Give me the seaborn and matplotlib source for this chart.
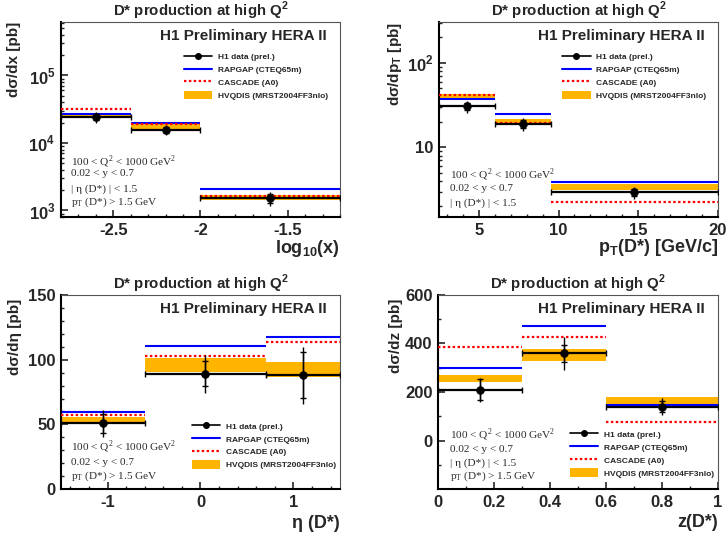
import numpy as np
import pandas as pd
import matplotlib
matplotlib.use("Agg")
import matplotlib.pyplot as plt
from matplotlib.lines import Line2D
from matplotlib.patches import Patch
from matplotlib.ticker import MultipleLocator, LogLocator, NullFormatter
import seaborn as sns

# ---- data ----
# d sigma / d log10(x)
logx_edges = [-2.8, -2.4, -2.0, -1.2]
logx_data = [2.46e4, 1.57e4, 1.52e3]
logx_stat = [2.5e3, 1.5e3, 2.2e2]
logx_tot = [4.6e3, 2.7e3, 3.5e2]
logx_rapgap = [2.7e4, 2.0e4, 2.08e3]
logx_cascade = [3.16e4, 1.92e4, 1.63e3]
logx_hvq_lo = [2.41e4, 1.6e4, 1.45e3]
logx_hvq_hi = [2.7e4, 1.92e4, 1.7e3]

# d sigma / d pT
pt_edges = [2.5, 6.0, 9.5, 20.0]
pt_data = [30.6, 19.0, 2.93]
pt_stat = [3.2, 2.0, 0.3]
pt_tot = [5.2, 3.2, 0.5]
pt_rapgap = [37.8, 24.9, 3.85]
pt_cascade = [42.2, 19.5, 2.25]
pt_hvq_lo = [38.1, 19.5, 3.1]
pt_hvq_hi = [43.0, 21.9, 3.7]

# d sigma / d eta
eta_edges = [-1.5, -0.6, 0.7, 1.5]
eta_data = [50.9, 89.1, 87.9]
eta_stat = [7.5, 9.7, 17.7]
eta_tot = [10.5, 14.7, 22.0]
eta_rapgap = [59.9, 110.2, 117.4]
eta_cascade = [57.3, 102.7, 113.8]
eta_hvq_lo = [51.0, 90.7, 86.3]
eta_hvq_hi = [56.0, 101.0, 98.0]

# d sigma / d z
z_edges = [0.0, 0.3, 0.6, 1.0]
z_data = [210, 359, 141]
z_stat = [44, 36, 22]
z_tot = [50, 67, 34]
z_rapgap = [300, 470, 148]
z_cascade = [386, 428, 78]
z_hvq_lo = [240, 327, 150]
z_hvq_hi = [272, 378, 182]

legend_labels = ["H1 data (prel.)", "RAPGAP (CTEQ65m)", "CASCADE (A0)", "HVQDIS (MRST2004FF3nlo)"]

sns.set_theme(style="ticks")
plt.rcParams['font.family'] = ['Liberation Sans', 'DejaVu Sans']
plt.rcParams['font.weight'] = 'bold'
plt.rcParams['axes.labelweight'] = 'bold'
plt.rcParams['axes.titleweight'] = 'bold'
plt.rcParams['axes.unicode_minus'] = False

ORANGE = '#ffb400'
BLUE = '#0000ff'
RED = '#ff0000'


def draw_panel(ax, edges, data, stat, tot, rap, cas, lo, hi):
    edges = np.array(edges)
    centers = (edges[:-1] + edges[1:]) / 2
    widths = edges[1:] - edges[:-1]
    lo = np.array(lo)
    hi = np.array(hi)
    ax.bar(centers, hi - lo, bottom=lo, width=widths, color=ORANGE, linewidth=0, zorder=1)
    ax.hlines(rap, edges[:-1], edges[1:], color=BLUE, lw=1.5, zorder=2)
    ax.hlines(cas, edges[:-1], edges[1:], color=RED, lw=1.6, linestyles=(0, (1.1, 1.1)), zorder=3)
    ax.errorbar(centers, data, xerr=widths / 2, fmt='none', ecolor='black', elinewidth=1.6,
                capsize=2.2, capthick=1.0, zorder=4)
    ax.errorbar(centers, data, yerr=tot, fmt='none', ecolor='black', elinewidth=1.0, capsize=0, zorder=4)
    ax.errorbar(centers, data, yerr=stat, fmt='none', ecolor='black', elinewidth=1.0,
                capsize=2.2, capthick=1.0, zorder=4)
    sns.scatterplot(x=centers, y=data, color='black', s=32, edgecolor='black', zorder=5, ax=ax)


def style_axes(ax):
    for side in ['left', 'bottom']:
        ax.spines[side].set_linewidth(1.5)
        ax.spines[side].set_color('black')
    for side in ['top', 'right']:
        ax.spines[side].set_linewidth(0.8)
        ax.spines[side].set_color('#555555')
    ax.tick_params(which='major', direction='in', length=5, width=1.2, labelsize=12, pad=4,
                   top=False, right=False)
    ax.tick_params(which='minor', direction='in', length=2.5, width=1.0, top=False, right=False)
    ax.set_title("D* production at high Q$^\\mathregular{2}$", fontsize=10.8, pad=4)
    ax.text(0.952, 0.928, "H1 Preliminary HERA II", transform=ax.transAxes, ha='right', va='center',
            fontsize=11)


def add_legend(ax, x, y):
    handles = [Line2D([], [], color='black', marker='o', markersize=4, lw=1.2),
               Line2D([], [], color=BLUE, lw=1.5),
               Line2D([], [], color=RED, lw=1.6, ls=(0, (1.1, 1.1))),
               Patch(color=ORANGE, lw=0)]
    ax.legend(handles, legend_labels, loc='upper left', bbox_to_anchor=(x, y), frameon=False,
              prop={'size': 6, 'weight': 'bold'}, handlelength=3.4, handleheight=1.2,
              handletextpad=0.7, labelspacing=0.45, borderpad=0, borderaxespad=0)


def add_cuts(ax, x, ys, lines):
    for yy, s in zip(ys, lines):
        ax.text(x, yy, s, transform=ax.transAxes, fontfamily='Liberation Serif', fontweight='normal',
                fontsize=8.1, color='#2a2a2a', va='center', ha='left')


cut_q2 = "100 < Q$^\\mathregular{2}$ < 1000 GeV$^\\mathregular{2}$"
cut_y = "0.02 < y < 0.7"
cut_eta = "| η (D*) | < 1.5"
cut_pt = "p$_\\mathregular{T}$ (D*) > 1.5 GeV"

fig = plt.figure(figsize=(7.28, 5.39), dpi=100)
ax1 = fig.add_axes([0.0838, 0.5974, 0.3832, 0.3618])
ax2 = fig.add_axes([0.6030, 0.5974, 0.3832, 0.3618])
ax3 = fig.add_axes([0.0838, 0.0922, 0.3832, 0.3610])
ax4 = fig.add_axes([0.6016, 0.0922, 0.3846, 0.3610])

# panel 1: log10(x)
draw_panel(ax1, logx_edges, logx_data, logx_stat, logx_tot, logx_rapgap, logx_cascade, logx_hvq_lo, logx_hvq_hi)
ax1.set_yscale('log')
ax1.set_xlim(-2.8, -1.2)
ax1.set_ylim(800, 6.2e5)
ax1.set_xticks([-2.5, -2.0, -1.5], labels=["-2.5", "-2", "-1.5"])
ax1.xaxis.set_minor_locator(MultipleLocator(0.1))
ax1.set_yticks([1e3, 1e4, 1e5], labels=["10$^\\mathregular{3}$", "10$^\\mathregular{4}$", "10$^\\mathregular{5}$"])
ax1.yaxis.set_minor_locator(LogLocator(base=10, subs=np.arange(2, 10)))
ax1.yaxis.set_minor_formatter(NullFormatter())
style_axes(ax1)
ax1.set_xlabel("log$_\\mathregular{10}$(x)", fontsize=13, loc='right')
ax1.set_ylabel("dσ/dx [pb]", fontsize=11, loc='top')
ax1.xaxis.set_label_coords(1.0, -0.11)
ax1.yaxis.set_label_coords(-0.143, 1.0)
add_legend(ax1, 0.441, 0.845)
add_cuts(ax1, 0.035, [0.284, 0.221, 0.142, 0.078], [cut_q2, cut_y, cut_eta, cut_pt])

# panel 2: pT
draw_panel(ax2, pt_edges, pt_data, pt_stat, pt_tot, pt_rapgap, pt_cascade, pt_hvq_lo, pt_hvq_hi)
ax2.set_yscale('log')
ax2.set_xlim(2.5, 20)
ax2.set_ylim(1.5, 305)
ax2.set_xticks([5, 10, 15, 20], labels=["5", "10", "15", "20"])
ax2.xaxis.set_minor_locator(MultipleLocator(1))
ax2.set_yticks([10, 100], labels=["10", "10$^\\mathregular{2}$"])
ax2.yaxis.set_minor_locator(LogLocator(base=10, subs=np.arange(2, 10)))
ax2.yaxis.set_minor_formatter(NullFormatter())
style_axes(ax2)
ax2.set_xlabel("p$_\\mathregular{T}$(D*) [GeV/c]", fontsize=13, loc='right')
ax2.set_ylabel("dσ/dp$_\\mathregular{T}$ [pb]", fontsize=11, loc='top')
ax2.xaxis.set_label_coords(1.0, -0.105)
ax2.yaxis.set_label_coords(-0.125, 1.0)
add_legend(ax2, 0.442, 0.845)
add_cuts(ax2, 0.039, [0.215, 0.147, 0.07], [cut_q2, cut_y, cut_eta])

# panel 3: eta
draw_panel(ax3, eta_edges, eta_data, eta_stat, eta_tot, eta_rapgap, eta_cascade, eta_hvq_lo, eta_hvq_hi)
ax3.set_xlim(-1.5, 1.5)
ax3.set_ylim(0, 150)
ax3.set_xticks([-1, 0, 1], labels=["-1", "0", "1"])
ax3.xaxis.set_minor_locator(MultipleLocator(0.2))
ax3.set_yticks([0, 50, 100, 150])
ax3.yaxis.set_minor_locator(MultipleLocator(10))
style_axes(ax3)
ax3.set_xlabel("η (D*)", fontsize=13, loc='right')
ax3.set_ylabel("dσ/dη [pb]", fontsize=11, loc='top')
ax3.xaxis.set_label_coords(1.0, -0.13)
ax3.yaxis.set_label_coords(-0.141, 0.98)
add_legend(ax3, 0.468, 0.348)
add_cuts(ax3, 0.035, [0.219, 0.137, 0.068], [cut_q2, cut_y, cut_pt])

# panel 4: z
draw_panel(ax4, z_edges, z_data, z_stat, z_tot, z_rapgap, z_cascade, z_hvq_lo, z_hvq_hi)
ax4.set_xlim(0, 1)
ax4.set_ylim(-199, 600)
ax4.set_xticks([0, 0.2, 0.4, 0.6, 0.8, 1.0], labels=["0", "0.2", "0.4", "0.6", "0.8", "1"])
ax4.xaxis.set_minor_locator(MultipleLocator(0.1))
ax4.set_yticks([0, 200, 400, 600])
ax4.yaxis.set_minor_locator(MultipleLocator(100))
style_axes(ax4)
ax4.set_xlabel("z(D*)", fontsize=13, loc='right')
ax4.set_ylabel("dσ/dz [pb]", fontsize=11, loc='top')
ax4.xaxis.set_label_coords(1.0, -0.125)
ax4.yaxis.set_label_coords(-0.125, 0.98)
add_legend(ax4, 0.47, 0.305)
add_cuts(ax4, 0.043, [0.279, 0.205, 0.136, 0.068], [cut_q2, cut_y, cut_eta, cut_pt])

fig.savefig("out.png", dpi=100)
